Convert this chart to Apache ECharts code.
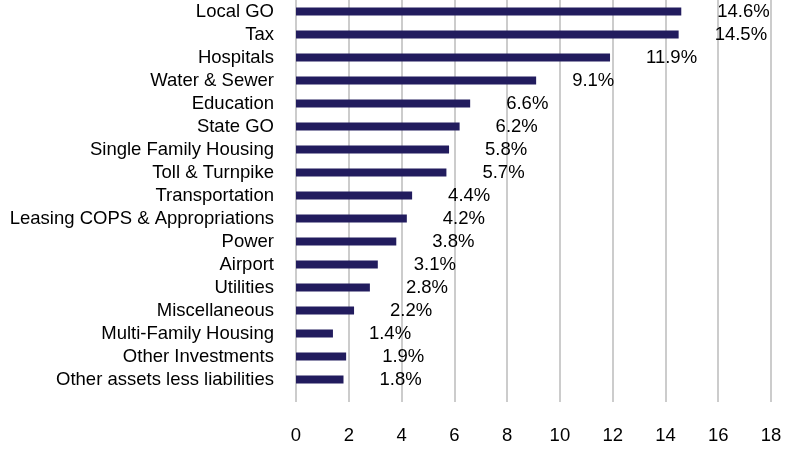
<!DOCTYPE html>
<html>
<head>
<meta charset="utf-8">
<script src="https://cdn.jsdelivr.net/npm/echarts@6/dist/echarts.min.js"></script>
<style>
  html, body { margin: 0; padding: 0; background: #fff; }
  #chart { width: 804px; height: 466px; }
</style>
</head>
<body>
<div id="chart"></div>
<script>
// sectors, top to bottom
var sectors = ['Local GO', 'Tax', 'Hospitals', 'Water & Sewer', 'Education', 'State GO',
  'Single Family Housing', 'Toll & Turnpike', 'Transportation', 'Leasing COPS & Appropriations',
  'Power', 'Airport', 'Utilities', 'Miscellaneous', 'Multi-Family Housing',
  'Other Investments', 'Other assets less liabilities'];
var weights = [14.6, 14.5, 11.9, 9.1, 6.6, 6.2, 5.8, 5.7, 4.4, 4.2, 3.8, 3.1, 2.8, 2.2, 1.4, 1.9, 1.8];

var axisMin = 0, axisMax = 18, axisStep = 2;

var font = 'Liberation Sans, Arial, sans-serif';
var fs = 18.5;

var myChart = echarts.init(document.getElementById('chart'));
myChart.setOption({
    animation: false,
    grid: { left: 296, right: 33, top: 0, height: 391 },
    xAxis: {
        type: 'value',
        min: axisMin,
        max: axisMax,
        interval: axisStep,
        axisLine: { show: false },
        axisTick: { show: true, length: 11, lineStyle: { color: '#cccccc', width: 2 } },
        splitLine: { show: true, lineStyle: { color: '#cccccc', width: 2 } },
        axisLabel: { margin: 35, color: '#000', fontSize: fs, fontFamily: font }
    },
    yAxis: {
        type: 'category',
        data: sectors,
        inverse: true,
        axisLine: { show: false },
        axisTick: { show: false },
        axisLabel: { interval: 0, margin: 22, color: '#000', fontSize: fs, fontFamily: font }
    },
    series: [{
        type: 'bar',
        data: weights,
        barWidth: 8,
        itemStyle: { color: '#221c5e' },
        label: {
            show: true,
            position: 'right',
            distance: 36,
            color: '#000',
            fontSize: fs,
            fontFamily: font,
            formatter: function (p) { return p.value.toFixed(1) + '%'; }
        },
        labelLayout: { hideOverlap: false }
    }]
});
</script>
</body>
</html>
